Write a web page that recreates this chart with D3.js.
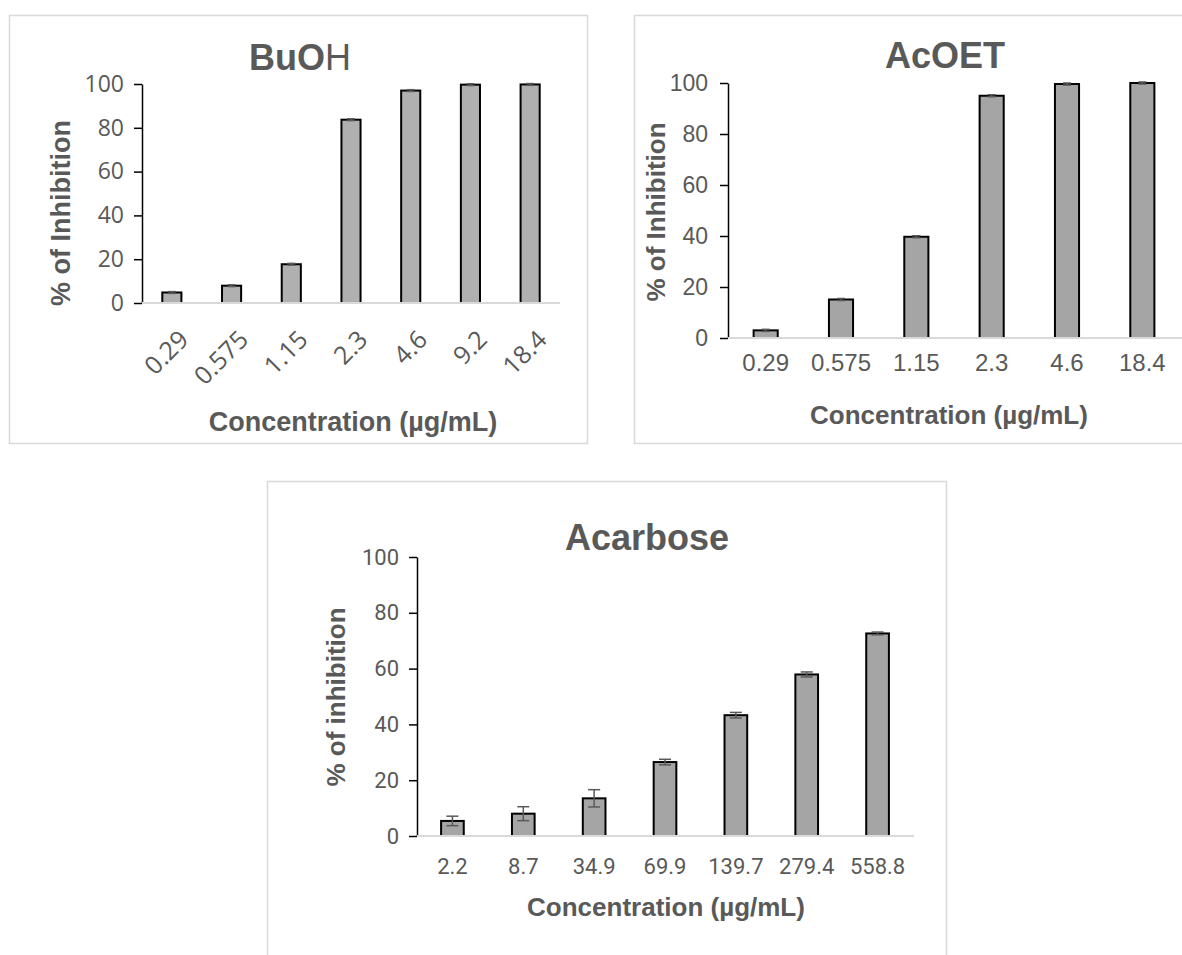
<!DOCTYPE html>
<html>
<head>
<meta charset="utf-8">
<script src="https://cdn.jsdelivr.net/npm/d3@7"></script>
<style>
  body { margin: 0; background: #fff; }
  svg { display: block; }
</style>
</head>
<body>
<div id="chart"></div>
<script>
// BuOH extract
const buohConc = ["0.29", "0.575", "1.15", "2.3", "4.6", "9.2", "18.4"];
const buohInhib = [4.8, 7.9, 17.7, 83.7, 97.0, 99.7, 99.8];
const buohErr = [0.4, 0.4, 0.4, 0.4, 0.4, 0.4, 0.4];

// AcOET extract
const acoetConc = ["0.29", "0.575", "1.15", "2.3", "4.6", "18.4"];
const acoetInhib = [3.0, 15.1, 39.7, 95.0, 99.6, 100];
const acoetErr = [0.4, 0.4, 0.4, 0.4, 0.4, 0.4];

// Acarbose (reference)
const acarConc = ["2.2", "8.7", "34.9", "69.9", "139.7", "279.4", "558.8"];
const acarInhib = [5.4, 8.0, 13.5, 26.5, 43.3, 57.9, 72.6];
const acarErr = [1.7, 2.5, 3.1, 1.0, 1.0, 0.9, 0.5];

const yTicks = [0, 20, 40, 60, 80, 100];

const textColor = "#595959";

const svg = d3.select("#chart")
  .append("svg")
  .attr("width", 1182)
  .attr("height", 955);

function drawPanel(o) {
  const g = svg.append("g");

  // chart frame
  g.append("rect")
    .attr("x", o.frame[0] + 0.5)
    .attr("y", o.frame[1] + 0.5)
    .attr("width", o.frame[2])
    .attr("height", o.frame[3])
    .attr("fill", "#fff")
    .attr("stroke", "#d9d9d9")
    .attr("stroke-width", 1.5);

  const data = o.cats.map((c, i) => ({cat: c, v: o.vals[i], e: o.errs[i]}));

  const x = d3.scaleBand()
    .domain(o.cats)
    .range([o.left, o.right])
    .paddingInner(0.68)
    .paddingOuter(0.34);

  const y = d3.scaleLinear()
    .domain([0, 100])
    .range([o.bottom, o.top]);

  // y axis
  const yAxis = g.append("g")
    .attr("transform", `translate(${o.left},0)`)
    .call(d3.axisLeft(y).tickValues(yTicks).tickSize(8).tickSizeOuter(0).tickPadding(o.yPad));
  yAxis.select(".domain").attr("stroke", "#000").attr("stroke-width", 1.5);
  yAxis.selectAll(".tick line").attr("stroke", "#000").attr("stroke-width", 1.5);
  yAxis.selectAll("text")
    .attr("fill", textColor)
    .style("font-family", o.tickFont)
    .style("font-size", o.tickSize + "px");

  // bars
  g.append("g")
    .selectAll("rect")
    .data(data)
    .join("rect")
    .attr("x", d => x(d.cat))
    .attr("y", d => y(d.v))
    .attr("width", x.bandwidth())
    .attr("height", d => y(0) - y(d.v))
    .attr("fill", o.barColor)
    .attr("stroke", "#000")
    .attr("stroke-width", 2);

  // error bars
  const eb = g.append("g")
    .attr("stroke", "#595959")
    .attr("stroke-width", 1.5)
    .selectAll("g")
    .data(data)
    .join("g")
    .attr("transform", d => `translate(${x(d.cat) + x.bandwidth() / 2},0)`);
  eb.append("line")
    .attr("y1", d => y(d.v - d.e))
    .attr("y2", d => y(d.v + d.e));
  eb.append("line")
    .attr("x1", -o.cap).attr("x2", o.cap)
    .attr("y1", d => y(d.v + d.e)).attr("y2", d => y(d.v + d.e));
  eb.append("line")
    .attr("x1", -o.cap).attr("x2", o.cap)
    .attr("y1", d => y(d.v - d.e)).attr("y2", d => y(d.v - d.e));

  // x axis (light baseline drawn over bar bottoms)
  const xAxis = g.append("g")
    .attr("transform", `translate(0,${o.bottom})`)
    .call(d3.axisBottom(x).tickSize(0).tickSizeOuter(0).tickPadding(o.xPad));
  xAxis.select(".domain").attr("stroke", "#d9d9d9").attr("stroke-width", 2)
    .attr("d", `M${o.left},0H${o.baseEnd}`);
  const xt = xAxis.selectAll("text")
    .attr("fill", textColor)
    .style("font-family", o.tickFont)
    .style("font-size", o.xTickSize + "px");
  if (o.rotate) {
    xt.attr("y", 0).attr("dy", "0.35em")
      .attr("text-anchor", "end")
      .attr("transform", `translate(12,${o.xPad}) rotate(-45)`);
  }

  // title
  const t = g.append("text")
    .attr("x", o.titleX)
    .attr("y", o.titleY)
    .attr("text-anchor", "middle")
    .attr("fill", textColor)
    .style("font-family", o.titleFont)
    .style("font-size", o.titleSize + "px");
  o.title.forEach(part => {
    t.append("tspan").attr("font-weight", part[1]).text(part[0]);
  });

  // axis titles
  g.append("text")
    .attr("x", o.xTitle[0])
    .attr("y", o.xTitle[1])
    .attr("text-anchor", "middle")
    .attr("fill", textColor)
    .attr("font-weight", "bold")
    .style("font-family", o.labelFont)
    .style("font-size", o.labelSize + "px")
    .text("Concentration (µg/mL)");

  g.append("text")
    .attr("transform", `translate(${o.yTitle[0]},${o.yTitle[1]}) rotate(-90)`)
    .attr("text-anchor", "middle")
    .attr("fill", textColor)
    .attr("font-weight", "bold")
    .style("font-family", o.labelFont)
    .style("font-size", o.labelSize + "px")
    .text(o.yLabel);
}

drawPanel({
  frame: [9, 15, 578, 428],
  cats: buohConc, vals: buohInhib, errs: buohErr,
  left: 142, right: 560, baseEnd: 560, top: 84, bottom: 303,
  barColor: "#b0b0b0", cap: 4,
  tickFont: "'Open Sans', sans-serif", tickSize: 23, xTickSize: 25, yPad: 10, xPad: 32, rotate: true,
  title: [["BuO", "bold"], ["H", "normal"]], titleFont: "'Liberation Sans', Arial, sans-serif",
  titleSize: 36, titleX: 300, titleY: 70,
  labelFont: "'Liberation Sans', Arial, sans-serif", labelSize: 27,
  xTitle: [353, 431], yTitle: [70, 213], yLabel: "% of Inhibition"
});

drawPanel({
  frame: [634, 15, 560, 428],
  cats: acoetConc, vals: acoetInhib, errs: acoetErr,
  left: 728, right: 1180, baseEnd: 1182, top: 83, bottom: 338,
  barColor: "#a5a5a5", cap: 4,
  tickFont: "'Liberation Sans', Arial, sans-serif", tickSize: 23, xTickSize: 24, yPad: 12, xPad: 16, rotate: false,
  title: [["AcOET", "bold"]], titleFont: "'Liberation Sans', Arial, sans-serif",
  titleSize: 36, titleX: 945, titleY: 68,
  labelFont: "'Liberation Sans', Arial, sans-serif", labelSize: 26,
  xTitle: [949, 424], yTitle: [665, 212], yLabel: "% of Inhibition"
});

drawPanel({
  frame: [267, 481, 679, 500],
  cats: acarConc, vals: acarInhib, errs: acarErr,
  left: 417, right: 913, baseEnd: 914, top: 557, bottom: 836,
  barColor: "#a5a5a5", cap: 6,
  tickFont: "Roboto, sans-serif", tickSize: 22, xTickSize: 22, yPad: 10, xPad: 22, rotate: false,
  title: [["Acarbose", "bold"]], titleFont: "'Liberation Sans', Arial, sans-serif",
  titleSize: 36, titleX: 647, titleY: 550,
  labelFont: "'Liberation Sans', Arial, sans-serif", labelSize: 26,
  xTitle: [666, 916], yTitle: [345, 697], yLabel: "% of inhibition"
});
</script>
</body>
</html>
